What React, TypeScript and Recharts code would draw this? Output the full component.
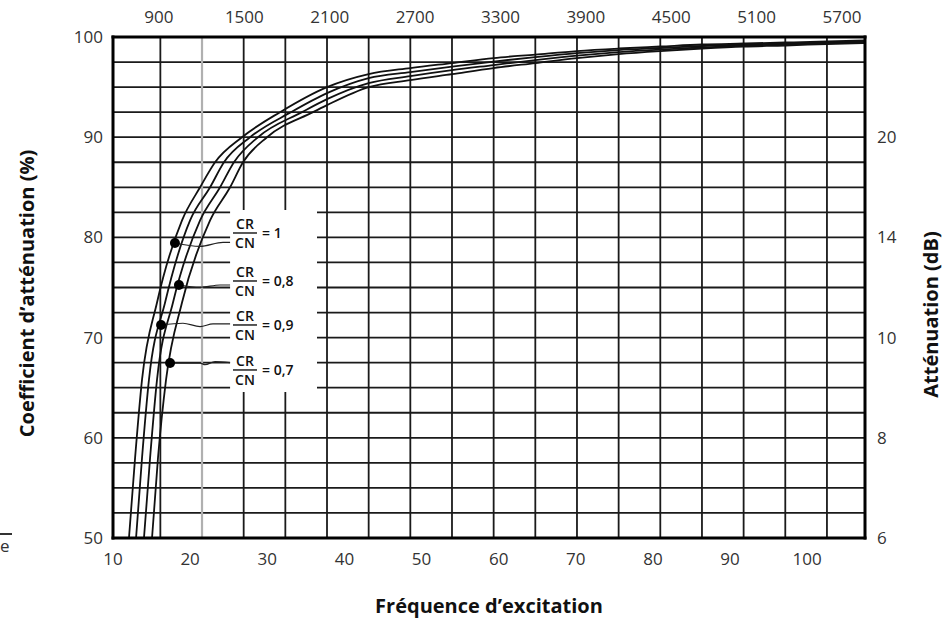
import {
  LineChart,
  Line,
  XAxis,
  YAxis,
  CartesianGrid,
  ReferenceLine,
  ReferenceArea,
  ReferenceDot,
} from "recharts"

// grid / axis ticks
const rpmGridTicks = [900, 1200, 1500, 1800, 2100, 2400, 2700, 3000, 3300, 3600, 3900, 4200, 4500, 4800, 5100, 5400, 5700]
const rpmLabelTicks = [900, 1500, 2100, 2700, 3300, 3900, 4500, 5100, 5700]
const freqTicks = [10, 20, 30, 40, 50, 60, 70, 80, 90, 100]
const pctGridTicks = [50, 52.5, 55, 57.5, 60, 62.5, 65, 67.5, 70, 72.5, 75, 77.5, 80, 82.5, 85, 87.5, 90, 92.5, 95, 97.5, 100]
const dbTickPct = [50, 60, 70, 80, 90]
const dbTickLabels = ["6", "8", "10", "14", "20"]

// curves, steep part read at fixed % levels
const steepPct = [50, 58, 65.8, 73.5, 81.7, 85, 87.5, 90, 92.5]
const steepRpm10 = [674, 718, 768, 876, 1056, 1186, 1294, 1488, 1762]
const steepRpm09 = [725, 768, 818, 934, 1114, 1258, 1358, 1546, 1841]
const steepRpm08 = [782, 826, 876, 991, 1186, 1330, 1430, 1603, 1920]
const steepRpm07 = [840, 883, 941, 1056, 1258, 1402, 1495, 1668, 1999]

// flat part read at grid lines
const flatRpm = [2100, 2400, 2700, 3000, 3300, 3600, 3900, 4200, 4500, 4800, 5100, 5400, 5700, 5974]
const flatPct10 = [95.0, 96.3, 96.9, 97.4, 97.9, 98.25, 98.6, 98.85, 99.05, 99.25, 99.35, 99.45, 99.55, 99.65]
const flatPct09 = [94.4, 95.9, 96.5, 97.05, 97.55, 98.0, 98.4, 98.7, 98.9, 99.1, 99.25, 99.35, 99.45, 99.55]
const flatPct08 = [93.8, 95.4, 96.1, 96.7, 97.2, 97.7, 98.15, 98.5, 98.75, 98.95, 99.15, 99.25, 99.4, 99.5]
const flatPct07 = [93.2, 95.0, 95.7, 96.3, 96.9, 97.4, 97.9, 98.3, 98.6, 98.85, 99.05, 99.15, 99.3, 99.4]

// annotations: ratio, dot on curve, fraction bar level
const ratios = ["1", "0,8", "0,9", "0,7"]
const dotRpm = [1005, 1034, 905, 970]
const dotPct = [79.44, 75.25, 71.26, 67.46]
const labelRpm = 1423
const labelPct = [80.44, 75.65, 71.26, 66.77]
const leaders = [
  [[1005, 79.44], [1186, 79.1], [1351, 79.5], [1402, 79.5]],
  [[1034, 75.25], [1186, 75.02], [1330, 75.25], [1402, 75.25]],
  [[905, 71.26], [1063, 71.43], [1186, 71.1], [1279, 71.36], [1402, 71.36]],
  [[970, 67.46], [1186, 67.46], [1222, 67.3], [1294, 67.6], [1402, 67.5]],
]

const build = (rpms: number[], flat: number[]) =>
  steepPct
    .map((p, i) => ({ rpm: rpms[i], pct: p }))
    .concat(flatRpm.map((r, i) => ({ rpm: r, pct: flat[i] })))

const curves = [
  build(steepRpm10, flatPct10),
  build(steepRpm09, flatPct09),
  build(steepRpm08, flatPct08),
  build(steepRpm07, flatPct07),
]

// invisible series so the label-only axes get their ticks
const topHelper = rpmLabelTicks.map((r, i) => ({ rpm: r, pct: dbTickPct[i % dbTickPct.length] }))
const bottomHelper = freqTicks.map((f, i) => ({ freq: f, pct: dbTickPct[i % dbTickPct.length] }))

const FONT = '"Open Sans", sans-serif'
const tickStyle = { fill: "#333", fontSize: 17, fontFamily: FONT }
const frame = { stroke: "#000", strokeWidth: 3, strokeLinecap: "square" as const }
const titleStyle = { fill: "#111", fontSize: 20, fontWeight: 700, fontFamily: FONT }

const Fraction = (value: string) => (props: any) => {
  const { cx, cy } = props
  return (
    <g fontFamily={FONT} fontWeight={600} fill="#111">
      <text x={cx + 12} y={cy - 4} fontSize={14} textAnchor="middle">CR</text>
      <line x1={cx} x2={cx + 24} y1={cy} y2={cy} stroke="#111" strokeWidth={1.4} />
      <text x={cx + 12} y={cy + 15} fontSize={14} textAnchor="middle">CN</text>
      <text x={cx + 29} y={cy + 5} fontSize={14}>= {value}</text>
    </g>
  )
}

export default function App() {
  return (
    <div style={{ position: "absolute", left: 0, top: 0, width: 947, height: 621, background: "#fff", fontFamily: FONT }}>
      <LineChart width={947} height={621} margin={{ top: 0, right: 0, bottom: 0, left: 0 }}>
        <XAxis xAxisId="grid" dataKey="rpm" type="number" domain={[559, 5974]} ticks={rpmGridTicks} interval={0} allowDataOverflow hide />
        <XAxis
          xAxisId="top"
          dataKey="rpm"
          orientation="top"
          type="number"
          domain={[577, 5862]}
          ticks={rpmLabelTicks}
          interval={0}
          allowDataOverflow
          height={37}
          axisLine={frame}
          tickLine={false}
          tickSize={6}
          tickMargin={8}
          tick={tickStyle}
        />
        <XAxis
          xAxisId="bottom"
          dataKey="freq"
          orientation="bottom"
          type="number"
          domain={[10, 107.5]}
          ticks={freqTicks}
          interval={0}
          allowDataOverflow
          height={83}
          axisLine={frame}
          tickLine={false}
          tickSize={6}
          tickMargin={9}
          tick={tickStyle}
          label={{ value: "Fréquence d’excitation", position: "insideBottom", offset: 8, ...titleStyle }}
        />
        <YAxis
          yAxisId="pct"
          type="number"
          domain={[50, 100]}
          ticks={pctGridTicks}
          interval={0}
          width={113}
          axisLine={frame}
          tickLine={false}
          tickSize={6}
          tickMargin={4}
          tick={tickStyle}
          tickFormatter={(v: number) => (v % 10 === 0 ? String(v) : "")}
          label={{ value: "Coefficient d’atténuation (%)", angle: -90, position: "center", dx: -30, dy: 6, ...titleStyle }}
        />
        <YAxis
          yAxisId="db"
          orientation="right"
          type="number"
          domain={[50, 100]}
          ticks={dbTickPct}
          interval={0}
          allowDataOverflow
          width={82}
          axisLine={frame}
          tickLine={false}
          tickSize={6}
          tickMargin={6}
          tick={tickStyle}
          tickFormatter={(v: number) => dbTickLabels[dbTickPct.indexOf(v)] ?? ""}
          label={{ value: "Atténuation (dB)", angle: -90, position: "center", dx: 25, dy: 27, ...titleStyle }}
        />
        <CartesianGrid xAxisId="grid" yAxisId="pct" stroke="#1a1a1a" strokeWidth={1.8} />
        <ReferenceLine xAxisId="grid" yAxisId="pct" x={1200} stroke="#b0b0b0" strokeWidth={2.2} />
        <ReferenceArea xAxisId="grid" yAxisId="pct" x1={1402} x2={2028} y1={64.57} y2={82.73} fill="#fff" fillOpacity={1} stroke="none" />
        <Line xAxisId="top" yAxisId="db" data={topHelper} dataKey="pct" stroke="none" dot={false} activeDot={false} isAnimationActive={false} />
        <Line xAxisId="bottom" yAxisId="db" data={bottomHelper} dataKey="pct" stroke="none" dot={false} activeDot={false} isAnimationActive={false} />
        {curves.map((d, i) => (
          <Line
            key={`c${i}`}
            xAxisId="grid"
            yAxisId="pct"
            data={d}
            dataKey="pct"
            type="monotone"
            stroke="#111"
            strokeWidth={1.8}
            dot={false}
            activeDot={false}
            isAnimationActive={false}
          />
        ))}
        {leaders.map((pts, i) => (
          <Line
            key={`l${i}`}
            xAxisId="grid"
            yAxisId="pct"
            data={pts.map(([rpm, pct]) => ({ rpm, pct }))}
            dataKey="pct"
            type="monotone"
            stroke="#222"
            strokeWidth={1.2}
            dot={false}
            activeDot={false}
            isAnimationActive={false}
          />
        ))}
        {ratios.map((r, i) => (
          <ReferenceDot key={`d${i}`} xAxisId="grid" yAxisId="pct" x={dotRpm[i]} y={dotPct[i]} r={5} fill="#000" stroke="none" />
        ))}
        {ratios.map((r, i) => (
          <ReferenceDot key={`t${i}`} xAxisId="grid" yAxisId="pct" x={labelRpm} y={labelPct[i]} r={1} shape={Fraction(r)} />
        ))}
      </LineChart>
      <div style={{ position: "absolute", left: 0, top: 533, width: 12, height: 1.5, background: "#333" }} />
      <div style={{ position: "absolute", left: 0, top: 536, fontSize: 17, color: "#333", lineHeight: "20px" }}>e</div>
    </div>
  )
}
